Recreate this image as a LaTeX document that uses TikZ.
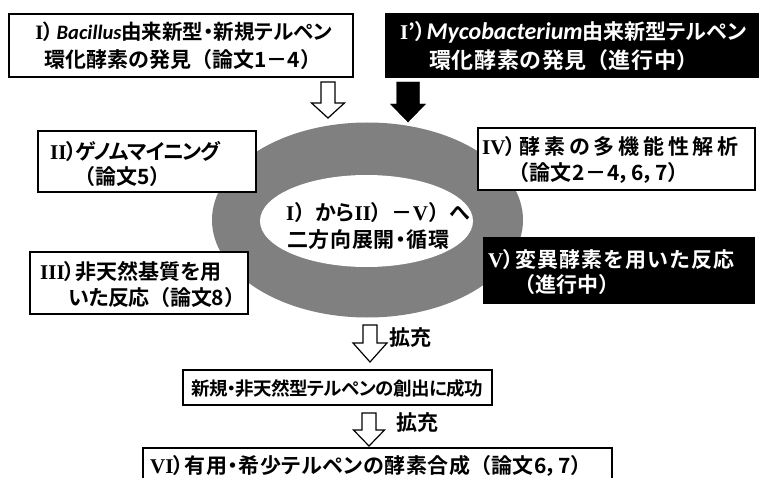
\documentclass[tikz,border=0pt]{standalone}
\usepackage{fontspec}
\setmainfont{Noto Sans CJK JP Bold}[RawFeature=+palt]
\newfontfamily\jpfull{Noto Sans CJK JP Bold}
\newfontfamily\latinfont{Carlito}
\newfontfamily\romfont{Liberation Serif}
\usetikzlibrary{calc,shapes.geometric}
\newcommand\sci[1]{{\latinfont\bfseries\itshape #1}}
\newcommand\rn[1]{{\romfont\bfseries #1}}
\newcommand\LP{{\jpfull （}}
\newcommand\RP{{\jpfull ）}}
% vertical block arrow: #1 style, #2 tail, #3 tip, #4 shaft half width, #5 head half width, #6 head length
\newcommand\varrow[6]{\draw[#1] ($(#2)+(-#4,0)$) -- ($(#2)+(#4,0)$) -- ($(#3)+(#4,-#6)$) -- ($(#3)+(#5,-#6)$) -- (#3) -- ($(#3)+(-#5,-#6)$) -- ($(#3)+(-#4,-#6)$) -- cycle;}
\begin{document}
\begin{tikzpicture}[x=1pt,y=-1pt,
  box/.style={draw=black, line width=1.5pt, fill=white, inner sep=0pt},
  dbox/.style={draw=black, line width=1.5pt, fill=black, inner sep=0pt},
  txt/.style={inner sep=0pt, font=\fontsize{21}{24}\selectfont},
  ls/.style 2 args={font=\fontsize{#1}{24}\selectfont\addfontfeature{LetterSpace=#2}},
  wtxt/.style={txt, text=white},
  warrow/.style={draw=black, line width=1.2pt, fill=white, line join=miter},
  barrow/.style={draw=black, fill=black, line join=miter}]
\clip (0,0) rectangle (762,478);
% ring
\node[ellipse, fill=gray, minimum width=311, minimum height=195, inner sep=0pt] (ring) at (367.5,220) {};
\node[ellipse, fill=white, minimum width=213, minimum height=92, inner sep=0pt] (hole) at (366.5,221) {};
\node[txt, anchor=west] (r1) at (286,213) {\rn{I}\RP から\rn{II}\RP －\rn{V}\RP へ};
\node[txt, ls={21}{3}, anchor=west] (r2) at (287,240) {二方向展開・循環};
% boxes
\node[box, minimum width=344, minimum height=63] (b1) at (181,45.5) {};
\node[txt, ls={20.5}{0}] (b1a) at (184,32) {\rn{I}）\hspace{3pt}\sci{Bacillus}由来新型・新規テルペン};
\node[txt] (b1b) at (183,60) {環化酵素の発見\LP 論文1－4\RP};
\node[dbox, minimum width=372, minimum height=63] (b1p) at (572,45.5) {};
\node[wtxt, anchor=west] (b1pa) at (400,32) {\rn{I}’）\hspace{1pt}{\fontsize{24}{24}\selectfont\sci{Mycobacterium}}由来新型テルペン};
\node[wtxt, ls={22}{3}, anchor=west] (b1pb) at (429,60) {環化酵素の発見\LP 進行中\RP};
\node[box, minimum width=218, minimum height=61] (b2) at (147,161.5) {};
\node[txt, ls={21}{-6}, anchor=west] (b2a) at (50,151) {\rn{II}）ゲノムマイニング};
\node[txt, anchor=west] (b2b) at (74,177) {\LP 論文5\RP};
\node[box, minimum width=218, minimum height=62] (b3) at (139,283) {};
\node[txt, anchor=west] (b3a) at (40,272) {\rn{III}）非天然基質を用};
\node[txt, ls={21}{-2}, anchor=west] (b3b) at (68,298) {いた反応\LP 論文8\RP};
\node[box, minimum width=277, minimum height=62] (b4) at (616.5,159) {};
\node[txt, ls={21}{18}, anchor=west] (b4a) at (482,147) {\rn{IV}）酵素の多機能性解析};
\node[txt, ls={21}{3}, anchor=west] (b4b) at (508,173) {\LP 論文2－4，6，7\RP};
\node[dbox, minimum width=270, minimum height=65] (b5) at (619,270.5) {};
\node[wtxt, ls={21}{6}, anchor=west] (b5a) at (488,260) {\rn{V}）変異酵素を用いた反応};
\node[wtxt, anchor=west] (b5b) at (514,285) {\LP 進行中\RP};
\node[box, minimum width=309, minimum height=35] (b6) at (337.5,387.5) {};
\node[txt, ls={18.5}{-3}] (b6a) at (337,388) {新規・非天然型テルペンの創出に成功};
\node[box, minimum width=469, minimum height=60] (b7) at (377.5,478) {};
\node[txt, ls={21}{2.5}, anchor=west] (b7a) at (150,466) {\rn{VI}）有用・希少テルペンの酵素合成\LP 論文6，7\RP};
% arrows
\coordinate (a1s) at (328,82);
\coordinate (a1t) at (328,118);
\varrow{warrow}{a1s}{a1t}{7}{16.5}{15}
\coordinate (a2s) at (408,82);
\coordinate (a2t) at (408,122);
\varrow{barrow}{a2s}{a2t}{11.5}{17.5}{18}
\coordinate (a3s) at (370,325);
\coordinate (a3t) at (370,362);
\varrow{warrow}{a3s}{a3t}{7}{17}{19}
\coordinate (a4s) at (369,413);
\coordinate (a4t) at (369,446);
\varrow{warrow}{a4s}{a4t}{7}{15.5}{16}
\node[txt] (k1) at (410,338) {拡充};
\node[txt] (k2) at (417,423) {拡充};
\end{tikzpicture}
\end{document}
